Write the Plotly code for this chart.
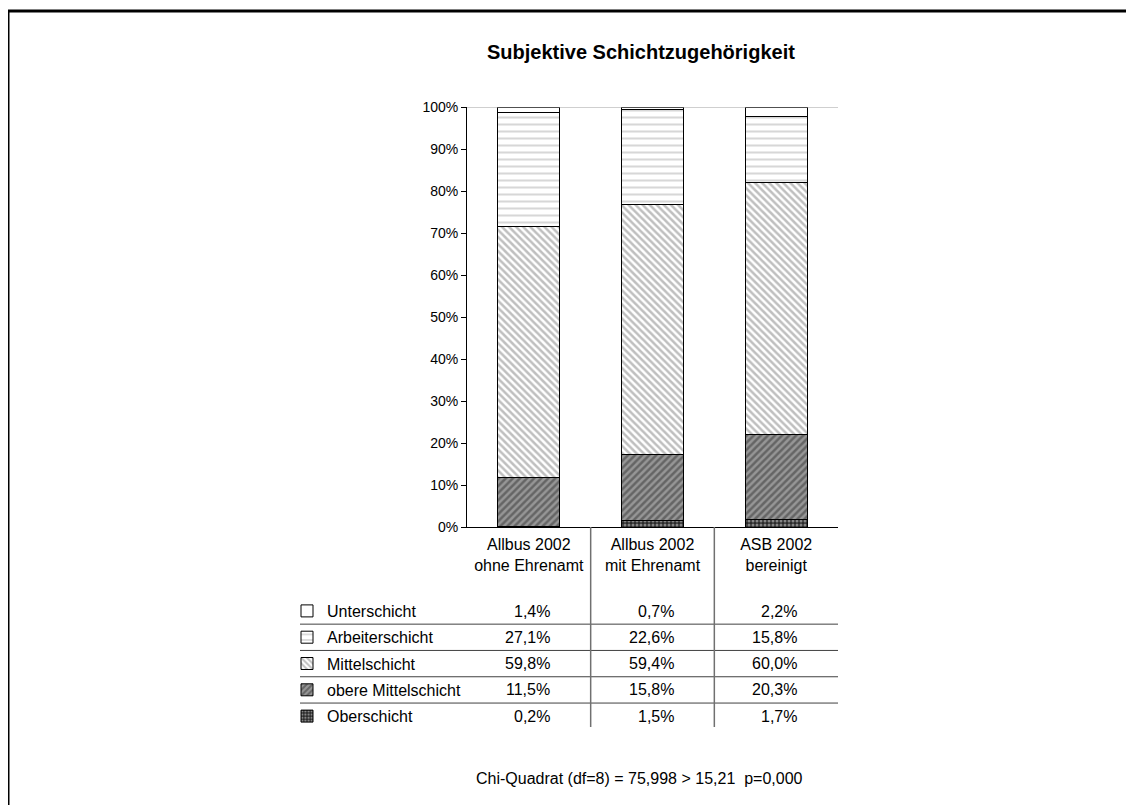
import plotly.graph_objects as go

# ---- data ----
categories = ["Allbus 2002<br>ohne Ehrenamt", "Allbus 2002<br>mit Ehrenamt", "ASB 2002<br>bereinigt"]
classes = ["Unterschicht", "Arbeiterschicht", "Mittelschicht", "obere Mittelschicht", "Oberschicht"]
unterschicht = [1.4, 0.7, 2.2]
arbeiterschicht = [27.1, 22.6, 15.8]
mittelschicht = [59.8, 59.4, 60.0]
obere_mittelschicht = [11.5, 15.8, 20.3]
oberschicht = [0.2, 1.5, 1.7]
values = {
    "Unterschicht": unterschicht,
    "Arbeiterschicht": arbeiterschicht,
    "Mittelschicht": mittelschicht,
    "obere Mittelschicht": obere_mittelschicht,
    "Oberschicht": oberschicht,
}
title_text = "Subjektive Schichtzugehörigkeit"
note_text = "Chi-Quadrat (df=8) = 75,998 > 15,21  p=0,000"

# ---- styles ----
patterns = {
    "Unterschicht": dict(shape="", bgcolor="white"),
    "Arbeiterschicht": dict(shape="-", fgcolor="#b0b0b0", bgcolor="white", size=7, solidity=0.3),
    "Mittelschicht": dict(shape="\\", fgcolor="#808080", bgcolor="white", size=5, solidity=0.5),
    "obere Mittelschicht": dict(shape="/", fgcolor="#333333", bgcolor="#969696", size=5, solidity=0.5),
    "Oberschicht": dict(shape=".", fgcolor="#e0e0e0", bgcolor="#2a2a2a", size=4, solidity=0.45),
}

# page geometry (the html body adds an 8px margin, compensate for it)
OX, OY = 8, 8
W, H = 1134, 805
L, R, T, B = 467, 838, 107, 527
FONT = "Liberation Sans, Arial, sans-serif"


def px2x(px):
    return (px - L) / (R - L)


def py2y(py):
    return (B - py) / (B - T)


fig = go.Figure()

stack_order = ["Oberschicht", "obere Mittelschicht", "Mittelschicht", "Arbeiterschicht", "Unterschicht"]
row_y = {c: 611 + i * 26.3 for i, c in enumerate(classes)}
legend_keys = {c: ("legend" if i == 0 else f"legend{i + 1}") for i, c in enumerate(classes)}

for cls in stack_order:
    fig.add_trace(go.Bar(
        name=cls,
        x=categories,
        y=[v / 100 for v in values[cls]],
        marker=dict(color="white", line=dict(color="black", width=1), pattern=patterns[cls]),
        legend=legend_keys[cls],
        hoverinfo="skip",
    ))

layout_legends = {}
for cls in classes:
    layout_legends[legend_keys[cls]] = dict(
        x=px2x(287), xanchor="left", y=py2y(row_y[cls]), yanchor="middle",
        font=dict(family=FONT, size=16, color="black"),
        bgcolor="rgba(0,0,0,0)", borderwidth=0, itemclick=False, itemdoubleclick=False,
    )

annotations = []
# table values
for cls in classes:
    for cat, v in zip(categories, values[cls]):
        annotations.append(dict(
            x=cat, xref="x", y=py2y(row_y[cls]), yref="paper",
            text=f"{v:.1f}%".replace(".", ","), showarrow=False,
            xanchor="right", yanchor="middle", xshift=23,
            font=dict(family=FONT, size=16, color="black"),
        ))
# title
annotations.append(dict(
    x=px2x(641), y=py2y(52), xref="paper", yref="paper", text=f"<b>{title_text}</b>",
    showarrow=False, xanchor="center", yanchor="middle",
    font=dict(family=FONT, size=20, color="black"),
))
# note
annotations.append(dict(
    x=px2x(639), y=py2y(778), xref="paper", yref="paper", text=note_text,
    showarrow=False, xanchor="center", yanchor="middle",
    font=dict(family=FONT, size=16, color="black"),
))

shapes = []
# outer frame
shapes.append(dict(type="rect", xref="paper", yref="paper",
                   x0=px2x(8), y0=py2y(11), x1=px2x(1150), y1=py2y(820),
                   line=dict(color="black", width=3), fillcolor="rgba(0,0,0,0)", layer="below"))
# top line of plot area
shapes.append(dict(type="line", xref="paper", yref="y", x0=0, x1=1, y0=1, y1=1,
                   line=dict(color="#a0a0a0", width=1)))
# table row separators
for i in range(len(classes) - 1):
    yy = py2y((row_y[classes[i]] + row_y[classes[i + 1]]) / 2)
    shapes.append(dict(type="line", xref="paper", yref="paper", x0=px2x(300), x1=1, y0=yy, y1=yy,
                       line=dict(color="#404040", width=1)))
# table column dividers
for k in range(1, len(categories)):
    shapes.append(dict(type="line", xref="x", yref="paper", x0=k - 0.5, x1=k - 0.5, y0=0, y1=py2y(727),
                       line=dict(color="#707070", width=1.5)))

fig_w, fig_h = W - OX, H - OY
fig.update_layout(
    width=fig_w, height=fig_h,
    margin=dict(l=L - OX, r=W - R, t=T - OY, b=H - B, autoexpand=False),
    paper_bgcolor="white", plot_bgcolor="white",
    barmode="stack", bargap=0.5,
    font=dict(family=FONT, color="black"),
    showlegend=True,
    annotations=annotations,
    shapes=shapes,
    **layout_legends,
)
fig.update_xaxes(type="category", range=[-0.5, 2.5], showline=True, linecolor="black", linewidth=1,
                 ticks="", showgrid=False, tickfont=dict(family=FONT, size=16, color="black"),
                 ticklabelstandoff=3, fixedrange=True)
fig.update_yaxes(range=[0, 1], dtick=0.1, tickformat=".0%", showline=True, linecolor="black", linewidth=1,
                 ticks="outside", ticklen=5, tickcolor="black", showgrid=False, zeroline=False,
                 tickfont=dict(family=FONT, size=14, color="black"), fixedrange=True)

fig.write_html("out.html")
